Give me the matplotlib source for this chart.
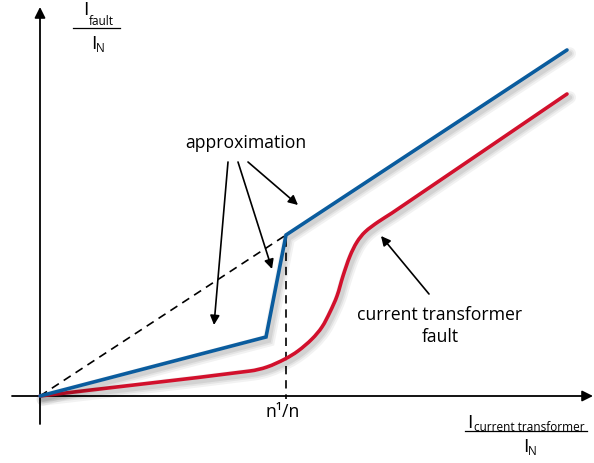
import math
import matplotlib
matplotlib.use("Agg")
import matplotlib.pyplot as plt
import matplotlib.patheffects as pe
from matplotlib.path import Path
from matplotlib.patches import PathPatch

# ---- data (schematic chart units, origin at axis crossing) ----
approx_x = [0, 226, 246, 527]
approx_y = [0, 59, 161, 346]

fault_x = [0, 210, 227, 245, 258, 272, 282, 290, 297, 303, 310, 317, 325, 338, 352, 527]
fault_y = [0, 25, 29, 37, 45, 57, 69, 84, 100, 120, 140, 154, 164, 174, 183, 302]

knee_x = [0, 246, 246]
knee_y = [0, 161, -3]

knee_label = "n¹/n"
approx_label = "approximation"
fault_label = "current transformer\nfault"

BLUE = "#0A5C9E"
RED = "#D2102C"
FONT = "Open Sans"

fig = plt.figure(figsize=(5.94, 4.64), dpi=100)
ax = fig.add_axes([0, 0, 1, 1])
ax.set_xlim(-40, 554)
ax.set_ylim(-67, 397)
ax.axis("off")


def shadow():
    return [pe.SimpleLineShadow(offset=(2, -2.5), shadow_color="k", alpha=0.05, linewidth=9),
            pe.SimpleLineShadow(offset=(2, -2.5), shadow_color="k", alpha=0.06, linewidth=6),
            pe.SimpleLineShadow(offset=(2, -2.5), shadow_color="k", alpha=0.07, linewidth=3.5),
            pe.Normal()]


def smooth_path(xs, ys):
    """Smooth curve through the given points (cubic Bezier, length-scaled tangents)."""
    pts = list(zip(xs, ys))
    n = len(pts)

    def unit(dx, dy):
        d = math.hypot(dx, dy) or 1.0
        return dx / d, dy / d

    tangents = []
    for i in range(n):
        a = pts[max(i - 1, 0)]
        b = pts[min(i + 1, n - 1)]
        tangents.append(unit(b[0] - a[0], b[1] - a[1]))
    verts = [pts[0]]
    codes = [Path.MOVETO]
    for i in range(n - 1):
        p1, p2 = pts[i], pts[i + 1]
        L = math.hypot(p2[0] - p1[0], p2[1] - p1[1]) / 3
        t1, t2 = tangents[i], tangents[i + 1]
        c1 = (p1[0] + t1[0] * L, p1[1] + t1[1] * L)
        c2 = (p2[0] - t2[0] * L, p2[1] - t2[1] * L)
        verts += [c1, c2, p2]
        codes += [Path.CURVE4] * 3
    return Path(verts, codes)


# axes with arrows
ax.annotate("", xy=(553, 0), xytext=(-28, 0),
            arrowprops=dict(arrowstyle="-|>", color="k", lw=1.3, mutation_scale=16,
                            shrinkA=0, shrinkB=0))
ax.annotate("", xy=(0, 389), xytext=(0, -28),
            arrowprops=dict(arrowstyle="-|>", color="k", lw=1.3, mutation_scale=16,
                            shrinkA=0, shrinkB=0))

# dashed helper lines
ax.plot(knee_x, knee_y, color="k", lw=1.2, ls=(0, (5, 3.5)), zorder=2)

# curves
fault_patch = PathPatch(smooth_path(fault_x, fault_y), facecolor="none", edgecolor=RED,
                        lw=2.6, capstyle="round", joinstyle="round", zorder=3)
fault_patch.set_path_effects(shadow())
ax.add_patch(fault_patch)
ax.plot(approx_x, approx_y, color=BLUE, lw=2.6, solid_capstyle="round",
        solid_joinstyle="miter", path_effects=shadow(), zorder=4)

# annotation arrows
arrow_kw = dict(arrowstyle="-|>", color="k", lw=1.2, mutation_scale=14, shrinkA=0, shrinkB=0)
ax.text(206, 254, approx_label, ha="center", va="center", fontsize=12.7, family=FONT)
for tx, ty, hx, hy in [(188, 234, 174, 71), (198, 234, 232, 127), (208, 234, 258, 191)]:
    ax.annotate("", xy=(hx, hy), xytext=(tx, ty), arrowprops=arrow_kw)

ax.annotate("", xy=(341, 160), xytext=(389, 102), arrowprops=arrow_kw)
ax.text(400, 71, fault_label, ha="center", va="center", fontsize=12.7, family=FONT,
        linespacing=1.3)

ax.text(243, -15, knee_label, ha="center", va="center", fontsize=12.7, family=FONT)

# y-axis label (fraction)
ax.text(43, 382, "I", ha="left", va="baseline", fontsize=14, family=FONT)
ax.text(49, 372, "fault", ha="left", va="baseline", fontsize=8.5, family=FONT)
ax.plot([33, 80], [368, 368], color="k", lw=0.9)
ax.text(51, 348, "I", ha="left", va="baseline", fontsize=14, family=FONT)
ax.text(55.5, 345, "N", ha="left", va="baseline", fontsize=8.5, family=FONT)

# x-axis label (fraction)
ax.text(427, -31, "I", ha="left", va="baseline", fontsize=14, family=FONT)
ax.text(434, -34, "current transformer", ha="left", va="baseline", fontsize=8.5, family=FONT)
ax.plot([425, 547], [-35, -35], color="k", lw=0.9)
ax.text(483, -55, "I", ha="left", va="baseline", fontsize=14, family=FONT)
ax.text(487.5, -58, "N", ha="left", va="baseline", fontsize=8.5, family=FONT)

fig.savefig("out.png", dpi=100)
